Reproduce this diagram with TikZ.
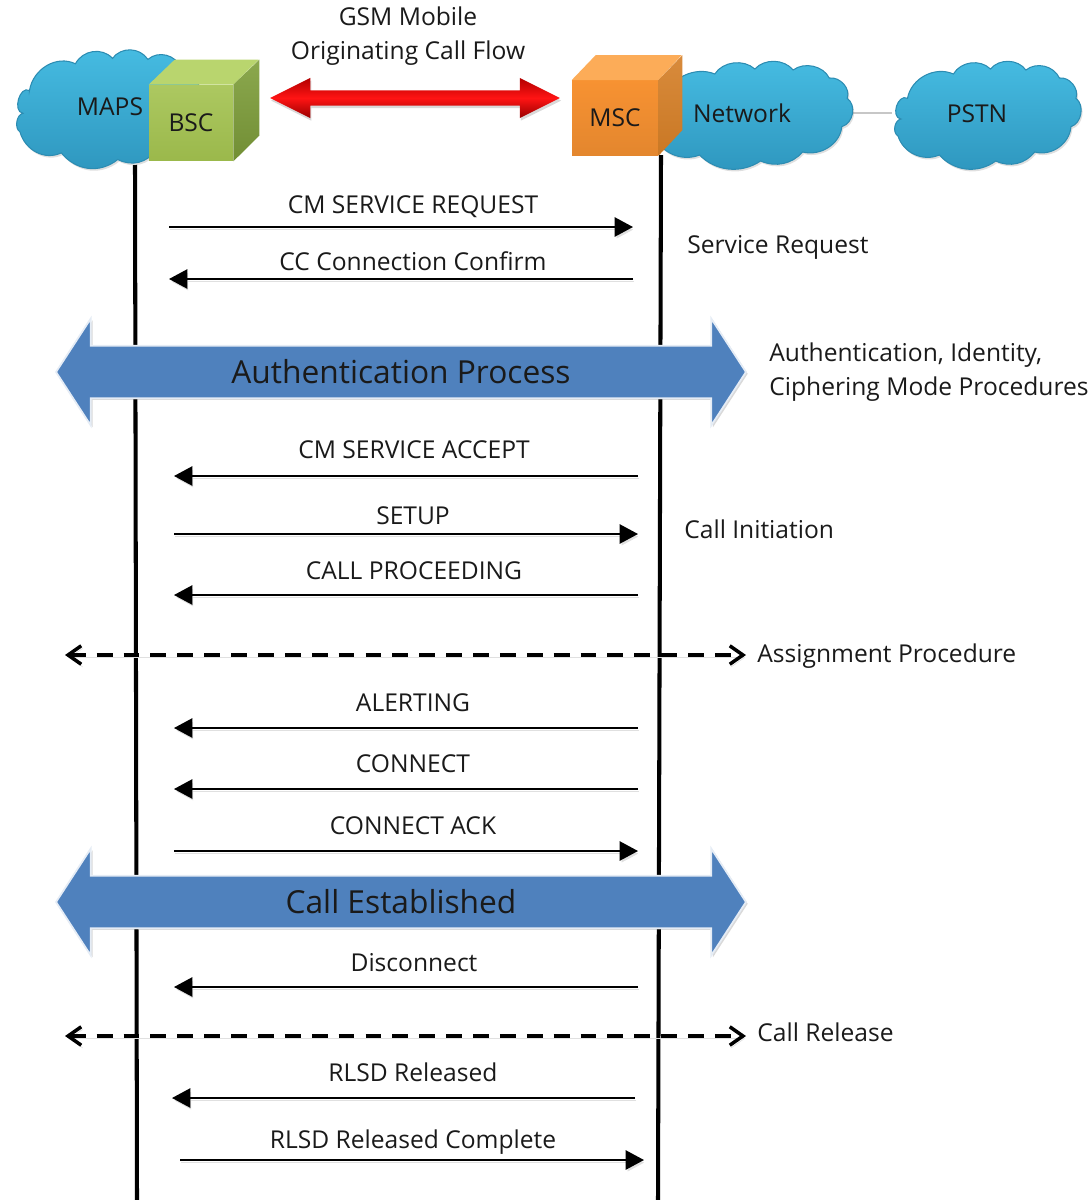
\documentclass[tikz,border=0pt]{standalone}
\usepackage{fontspec}
\setmainfont{Open Sans}
\usetikzlibrary{arrows.meta,positioning,shapes.arrows,shadows}
\definecolor{cloudtop}{HTML}{46BCE2}
\definecolor{cloudbot}{HTML}{2E96BE}
\definecolor{cloudedge}{HTML}{2C8CB2}
\definecolor{bscfront}{HTML}{A3C24F}
\definecolor{bsctop}{HTML}{B9D56E}
\definecolor{bscside}{HTML}{7E9E3A}
\definecolor{mscfront}{HTML}{F79232}
\definecolor{msctop}{HTML}{FCAC58}
\definecolor{mscside}{HTML}{D47E26}
\definecolor{bandblue}{HTML}{4F81BD}
\definecolor{txtdark}{HTML}{1A1A1A}
\newcommand{\cloudpath}{(-78.5,-17.7) to[bend left=52] (-32.6,-42) to[bend left=52] (4.5,-47) to[bend left=52] (39.9,-46) to[bend left=52] (73.4,-38) to[bend left=58] (90,-17.7) to[bend left=62] (85,10.7) to[bend left=50] (48.7,36) to[bend left=38] (9.8,45) to[bend left=42] (-46.7,39) to[bend left=48] (-88,20) to[bend left=70] (-85,3) to[bend left=100, looseness=1.3] cycle}

\begin{document}
\begin{tikzpicture}[x=0.02cm,y=-0.02cm,
  netcloud/.style={draw=cloudedge, line width=0.6pt, top color=cloudtop, bottom color=cloudbot, drop shadow={shadow xshift=0.8pt, shadow yshift=-1.2pt, opacity=.25}},
  cubefront/.style={inner sep=0pt, font=\fontsize{14}{16}\selectfont, text=txtdark, text height=13pt, text depth=3pt},
  lifeline/.style={line width=2.3pt, black},
  softshadow/.style={preaction={draw=black!12, transform canvas={shift={(0.8pt,-1.5pt)}}}},
  msg/.style={-{Triangle[length=10.5pt,width=11pt]}, line width=1.1pt, black, softshadow},
  proc/.style={{Straight Barb[length=7.5pt,width=10.5pt,line width=2pt]}-{Straight Barb[length=7.5pt,width=10.5pt,line width=2pt]}, line width=2pt, dash pattern=on 9pt off 6.3pt, black, softshadow},
  lbl/.style={inner sep=0pt, font=\fontsize{14}{19.3}\selectfont, text=txtdark},
  onelbl/.style={lbl, text height=13pt, text depth=3pt},
  sidelbl/.style={onelbl, anchor=west},
  band/.style={double arrow, double arrow tip angle=114, double arrow head extend=0.37cm, minimum height=13.8cm, minimum width=2.14cm, inner xsep=0pt, inner ysep=9.6pt, fill=bandblue, draw=white!85!bandblue, line width=1pt, drop shadow={shadow xshift=1pt, shadow yshift=-1pt, opacity=.3}},
  bandlbl/.style={inner sep=0pt, text height=15pt, text depth=2pt, font=\fontsize{18.05}{22}\selectfont, text=txtdark},
]
  \useasboundingbox (0,0) rectangle (1091,1200);

  % Title
  \node[lbl, align=center] (title) at (408,36) {GSM Mobile\\Originating Call Flow};

  % Lifelines
  \coordinate (mapstop) at (135,165);
  \coordinate (mapsend) at (137,1200);
  \coordinate (mscstart) at (661,155);
  \coordinate (mscend) at (658,1200);
  \draw[lifeline] (mapstop) -- (mapsend);
  \draw[lifeline] (mscstart) -- (mscend);

  % Clouds
  \coordinate (netright) at (848,113);
  \coordinate (pstnleft) at (892,113);
  \draw[line width=1.4pt, black!22] (netright) -- (pstnleft);
  \path[netcloud, shift={(108,110)}, yscale=1.1] \cloudpath;
  \path[netcloud, shift={(750,116)}, xscale=1.08] \cloudpath;
  \path[netcloud, shift={(986,116)}] \cloudpath;
  \node[onelbl] (mapslbl) at (110,107) {MAPS};
  \node[onelbl] (netlbl) at (742,114) {Network};
  \node[onelbl] (pstnlbl) at (977,114) {PSTN};

  % BSC cube
  \node[cubefront, minimum width=1.68cm, minimum height=1.52cm, top color=bscfront!90!white, bottom color=bscfront!95!black] (bsc) at (191,123) {BSC};
  \fill[bsctop] (bsc.north west) -- ++(26,-25) -- ++(84,0) -- (bsc.north east) -- cycle;
  \shade[top color=bscside!90!white, bottom color=bscside!90!black] (bsc.north east) -- ++(26,-25) -- ++(0,76) -- (bsc.south east) -- cycle;

  % MSC cube
  \node[cubefront, minimum width=1.72cm, minimum height=1.5cm, top color=mscfront, bottom color=mscfront!92!black] (msc) at (615,118) {MSC};
  \fill[msctop] (msc.north west) -- ++(24,-25) -- ++(86,0) -- (msc.north east) -- cycle;
  \shade[top color=mscside!90!white, bottom color=mscside!95!black] (msc.north east) -- ++(24,-25) -- ++(0,75) -- (msc.south east) -- cycle;

  % Red link
  \node[double arrow, double arrow tip angle=53, minimum height=5.8cm, minimum width=0.486cm, inner xsep=0pt, inner ysep=4.1pt, top color=red!70!black, bottom color=red!60!black, middle color=red!92!white, drop shadow={shadow xshift=0.6pt, shadow yshift=-1.5pt, opacity=.3}] (link) at (415,98) {};

  % Service request
  \coordinate (a1) at (169,227);
  \coordinate (b1) at (633,227);
  \draw[msg] (a1) -- (b1);
  \node[onelbl] (t1) at (413,205) {CM SERVICE REQUEST};
  \coordinate (a2) at (169,279);
  \coordinate (b2) at (633,279);
  \draw[msg] (b2) -- (a2);
  \node[onelbl] (t2) at (413,262) {CC Connection Confirm};
  \node[sidelbl] (servreq) at (687,245) {Service Request};

  % Authentication
  \node[band] (auth) at (401,372) {};
  \node[bandlbl] (authtxt) at (401,372) {Authentication Process};
  \node[lbl, anchor=west, align=left] (authlbl) at (769,372) {Authentication, Identity,\\Ciphering Mode Procedures};

  % Call initiation
  \coordinate (a3) at (174,476);
  \coordinate (b3) at (638,476);
  \draw[msg] (b3) -- (a3);
  \node[onelbl] (t3) at (414,450) {CM SERVICE ACCEPT};
  \coordinate (a4) at (174,534);
  \coordinate (b4) at (638,534);
  \draw[msg] (a4) -- (b4);
  \node[onelbl] (t4) at (413,516) {SETUP};
  \coordinate (a5) at (174,595);
  \coordinate (b5) at (638,595);
  \draw[msg] (b5) -- (a5);
  \node[onelbl] (t5) at (414,571) {CALL PROCEEDING};
  \node[sidelbl] (callinit) at (684,530) {Call Initiation};

  % Assignment
  \coordinate (p1l) at (65,655);
  \coordinate (p1r) at (746,655);
  \draw[proc] (p1l) -- (p1r);
  \node[sidelbl] (assign) at (757,654) {Assignment Procedure};

  % Alerting and connect
  \coordinate (a6) at (174,728);
  \coordinate (b6) at (638,728);
  \draw[msg] (b6) -- (a6);
  \node[onelbl] (t6) at (413,703) {ALERTING};
  \coordinate (a7) at (174,789);
  \coordinate (b7) at (638,789);
  \draw[msg] (b7) -- (a7);
  \node[onelbl] (t7) at (413,764) {CONNECT};
  \coordinate (a8) at (174,851);
  \coordinate (b8) at (638,851);
  \draw[msg] (a8) -- (b8);
  \node[onelbl] (t8) at (413,826) {CONNECT ACK};

  % Call established
  \node[band] (estab) at (401,902) {};
  \node[bandlbl] (estabtxt) at (401,902) {Call Established};

  % Release
  \coordinate (a9) at (174,987);
  \coordinate (b9) at (638,987);
  \draw[msg] (b9) -- (a9);
  \node[onelbl] (t9) at (414,963) {Disconnect};
  \coordinate (p2l) at (65,1036);
  \coordinate (p2r) at (746,1036);
  \draw[proc] (p2l) -- (p2r);
  \node[sidelbl] (callrel) at (757,1033) {Call Release};
  \coordinate (a10) at (172,1098);
  \coordinate (b10) at (635,1098);
  \draw[msg] (b10) -- (a10);
  \node[onelbl] (t10) at (413,1073) {RLSD Released};
  \coordinate (a11) at (180,1160);
  \coordinate (b11) at (644,1160);
  \draw[msg] (a11) -- (b11);
  \node[onelbl] (t11) at (413,1140) {RLSD Released Complete};
\end{tikzpicture}
\end{document}
